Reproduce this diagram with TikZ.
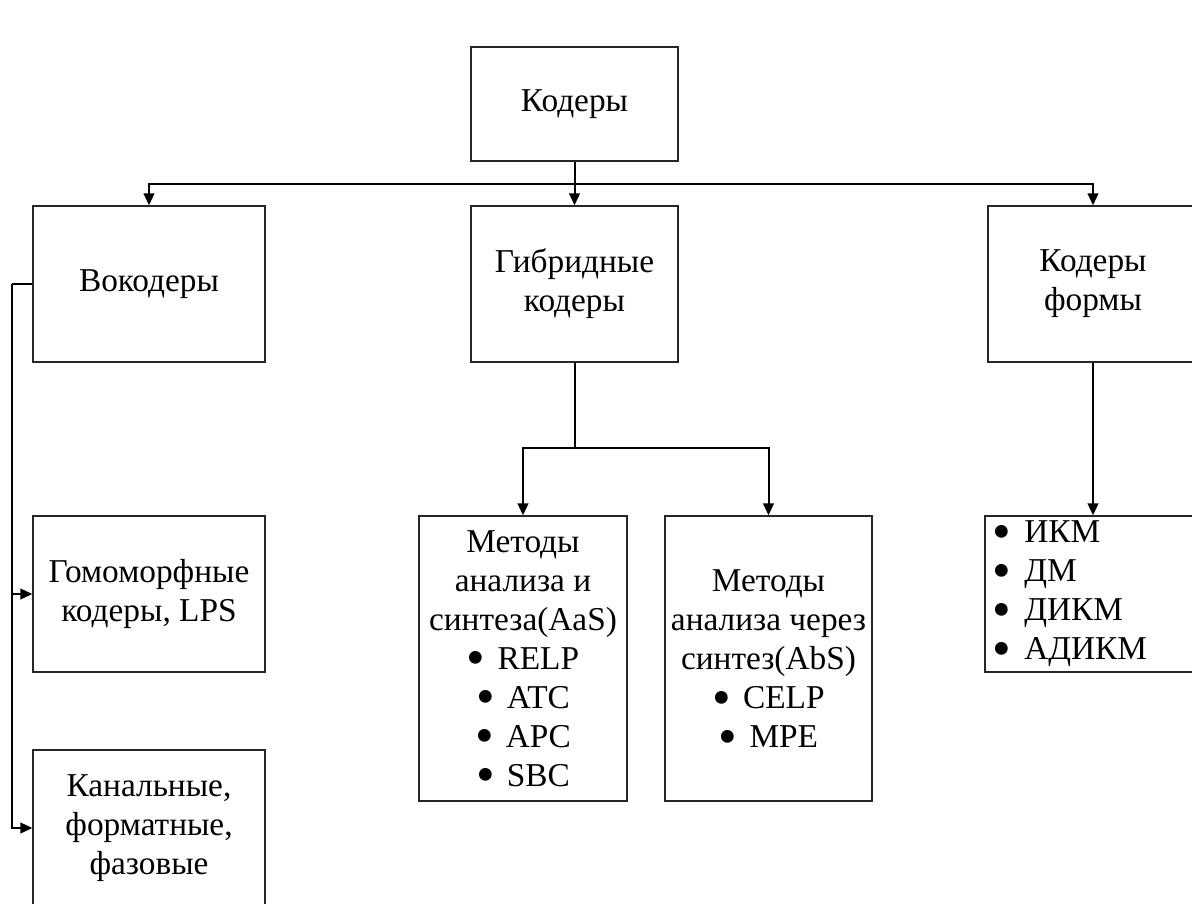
\documentclass[tikz,border=0pt]{standalone}
\usepackage{fontspec}
\usepackage{graphicx}
\setmainfont{Liberation Serif}
\usetikzlibrary{arrows.meta}
\tikzset{
  box/.style={draw=black!85, line width=1pt, fill=white, inner sep=0pt, align=center,
    font=\fontsize{25}{29.25}\selectfont},
  conn/.style={line width=1.5pt, black},
  arr/.style={conn, -{Triangle[length=9pt,width=8pt]}},
}
\newcommand{\bdot}{\smash{\raisebox{-0.2em}{\scalebox{1.6}{•}}}}
\newcommand{\bitem}[2]{\makebox[#1][l]{\bdot}#2}
\begin{document}
\begin{tikzpicture}[x=0.75pt,y=-0.75pt]
\useasboundingbox (0,0) rectangle (1192,903);
% nodes
\node[box, minimum width=155.25pt, minimum height=85.5pt] (top) at (574.5,104) {Кодеры};
\node[box, minimum width=174pt, minimum height=117pt] (voc) at (149,284) {Вокодеры};
\node[box, minimum width=155.25pt, minimum height=117pt] (hyb) at (574.5,284) {Гибридные\\кодеры};
\node[box, minimum width=157.5pt, minimum height=117pt] (form) at (1093,284) {Кодеры\\формы};
\node[box, minimum width=174pt, minimum height=117pt] (hom) at (149,594) {Гомоморфные\\кодеры, LPS};
\node[box, minimum width=174pt, minimum height=117pt] (kan) at (149,828) {Канальные,\\форматные,\\фазовые};
\node[box, minimum width=156pt, minimum height=213.75pt] (aas) at (523,658.5)
  {Методы\\анализа и\\синтеза(AaS)\\\bitem{23pt}{RELP}\\\bitem{23pt}{ATC}\\\bitem{23pt}{APC}\\\bitem{23pt}{SBC}};
\node[box, minimum width=155.25pt, minimum height=213.75pt] (abs) at (768.5,658.5)
  {Методы\\анализа через\\синтез(AbS)\\\bitem{23pt}{CELP}\\\bitem{23pt}{MPE}};
\node[box, minimum width=157.5pt, minimum height=117pt, align=left, text width=151pt, inner xsep=5.5pt] (list) at (1093,594)
  {\bitem{24pt}{ИКМ}\\\bitem{24pt}{ДМ}\\\bitem{24pt}{ДИКМ}\\\bitem{24pt}{АДИКМ}};
% connectors
\coordinate (tj) at (574.5,184);
\draw[conn] (top.south) -- (tj);
\draw[arr] (tj) -| (voc.north);
\draw[arr] (tj) -- (hyb.north);
\draw[arr] (tj) -| (form.north);
\coordinate (hj) at (574.5,448);
\draw[conn] (hyb.south) -- (hj);
\draw[arr] (hj) -| (aas.north);
\draw[arr] (hj) -| (abs.north);
\draw[arr] (form.south) -- (list.north);
\coordinate (lb) at (12,284);
\draw[conn] (voc.west) -- (lb);
\draw[arr] (lb) |- (hom.west);
\draw[arr] (lb) |- (kan.west);
\end{tikzpicture}
\end{document}
